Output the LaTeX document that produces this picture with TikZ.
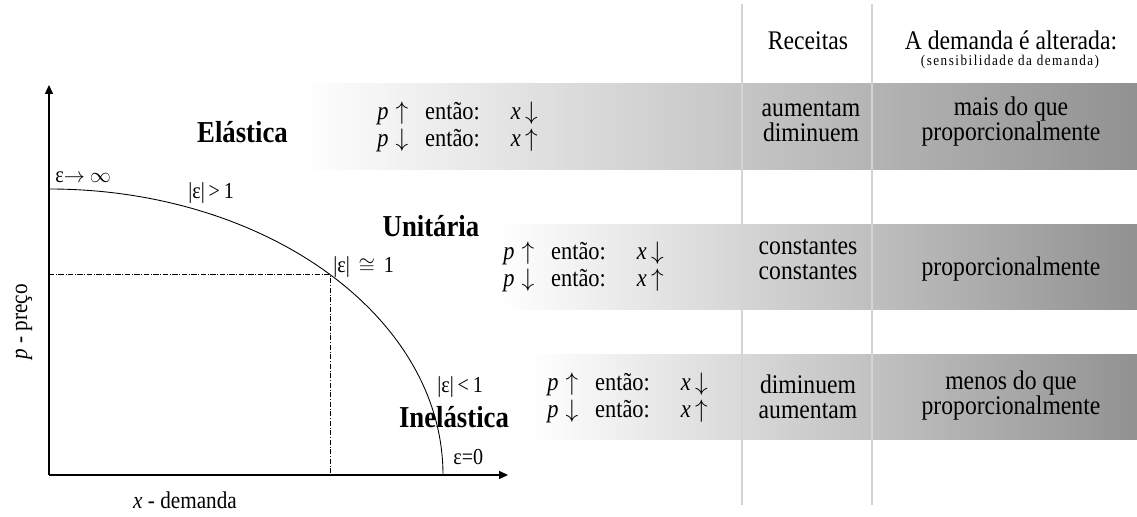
\documentclass[tikz,border=0pt]{standalone}
\usepackage{fontspec}
\setmainfont{Liberation Serif}[FakeStretch=0.88]
\usetikzlibrary{arrows.meta}

\tikzset{
  axis/.style={line width=0.6pt, -{Triangle[length=5pt,width=4.5pt]}},
  band/.style={left color=white, right color=black!43},
  kind/.style={font=\fontsize{17.3}{20}\selectfont\bfseries, inner sep=0pt},
  eps/.style={font=\fontsize{13}{15}\selectfont, anchor=west, inner sep=0pt},
  colrule/.style={draw=black!17, line width=0.6pt},
  rows/.style={font=\fontsize{14.5}{15.3}\selectfont, align=left, anchor=west, inner sep=0pt},
  cell/.style={font=\fontsize{15.3}{14.2}\selectfont, align=center, inner sep=0pt},
}
\newcommand{\pup}{\textit{p}\;$\uparrow$\ \ \ então:\quad\ \textit{x}\,$\downarrow$}
\newcommand{\pdown}{\textit{p}\;$\downarrow$\ \ \ então:\quad\ \textit{x}\,$\uparrow$}

\begin{document}
\begin{tikzpicture}
\useasboundingbox (0,0) rectangle (22.74,10.34);

% shaded rows
\shade[band] (6.00,6.94) rectangle (22.74,8.66);
\shade[band] (10.00,4.14) rectangle (22.74,5.84);
\shade[band] (10.60,1.54) rectangle (22.74,3.24);

% column rules
\coordinate (r1t) at (14.84,10.26);
\coordinate (r1b) at (14.84,0.24);
\coordinate (r2t) at (17.44,10.26);
\coordinate (r2b) at (17.44,0.24);
\draw[colrule] (r1t) -- (r1b);
\draw[colrule] (r2t) -- (r2b);

% axes
\coordinate (O) at (0.98,0.84);
\coordinate (ytip) at (0.98,8.64);
\coordinate (xtip) at (10.16,0.84);
\draw[axis] (O) -- (ytip);
\draw[axis] (O) -- (xtip);

% demand curve and the unit point
\coordinate (c0) at (8.86,0.84);
\draw[line width=0.5pt] (c0) arc[start angle=0, end angle=90, x radius=7.88, y radius=5.72];
\path (O) ++(44.5:7.88 and 5.72) coordinate (U);
\coordinate (Uy) at (O |- U);
\coordinate (Ux) at (U |- O);
\draw[densely dash dot, line width=0.4pt] (Uy) -- (U) -- (Ux);

\node[rotate=90] (py) at (0.48,3.90) {\fontsize{13.7}{15}\selectfont\textit{p} - preço};
\node (xd) at (3.70,0.34) {\fontsize{13.7}{15}\selectfont\textit{x} - demanda};

\node[eps] (einf) at (1.10,6.80) {ε$\to$\ $\infty$};
\node[eps] (egt) at (3.76,6.48) {|ε|\,>\,1};
\node[eps] (eeq) at (6.66,5.00) {|ε|\, $\cong$\, 1};
\node[eps] (elt) at (8.74,2.60) {|ε|\,<\,1};
\node[eps] (ezero) at (9.06,1.20) {ε=0};

\node[kind] (elast) at (4.85,7.70) {Elástica};
\node[kind] (unit) at (8.62,5.82) {Unitária};
\node[kind] (inel) at (9.08,2.00) {Inelástica};

% header
\node[cell, anchor=base] (rec) at (16.16,9.34) {Receitas};
\node[cell, anchor=base] (alt) at (20.22,9.34) {A demanda é alterada:};
\node[cell, anchor=base, font=\fontsize{8.5}{10}\selectfont\addfontfeatures{LetterSpace=10}] (sens) at (20.20,9.02) {(sensibilidade da demanda)};

% rows
\node[rows] (el1) at (7.54,7.80) {\pup\\\pdown};
\node[cell] (el2) at (16.22,7.90) {aumentam\\diminuem};
\node[cell] (el3) at (20.22,7.90) {mais do que\\proporcionalmente};

\node[rows] (un1) at (10.06,5.00) {\pup\\\pdown};
\node[cell] (un2) at (16.16,5.14) {constantes\\constantes};
\node[cell] (un3) at (20.22,4.96) {proporcionalmente};

\node[rows] (in1) at (10.94,2.38) {\pup\\\pdown};
\node[cell] (in2) at (16.16,2.40) {diminuem\\aumentam};
\node[cell] (in3) at (20.22,2.42) {menos do que\\proporcionalmente};
\end{tikzpicture}
\end{document}
